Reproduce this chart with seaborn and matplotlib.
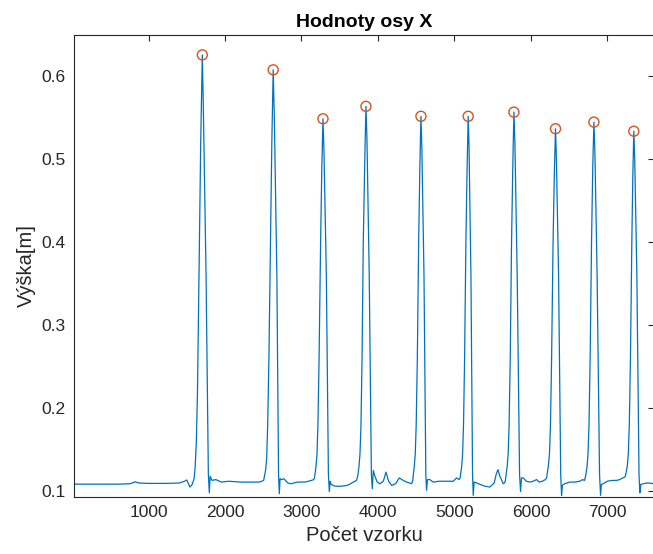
import numpy as np
import pandas as pd
import seaborn as sns
import matplotlib.pyplot as plt

# === Data (sample index, height [m]) ===
sig_x = [
    25, 600, 760, 820, 880, 1000, 1200, 1400, 1470, 1500, 1540, 1570,
    1595, 1610, 1625, 1640, 1660, 1682, 1703, 1716, 1752, 1782, 1795, 1805,
    1830, 1880, 1950, 2050, 2200, 2350, 2450, 2480,
    2505, 2530, 2545, 2558, 2574, 2595, 2612, 2630, 2645, 2678, 2700, 2710, 2720,
    2740, 2770, 2820, 2860, 2950, 3050, 3130, 3160,
    3170, 3190, 3203, 3215, 3230, 3250, 3266, 3281, 3294, 3325, 3352, 3364, 3374,
    3390, 3440, 3520, 3600, 3680, 3720, 3735,
    3752, 3765, 3778, 3792, 3808, 3828, 3843, 3856, 3886, 3914, 3926, 3939,
    3960, 3990, 4026, 4070, 4105, 4140, 4179, 4230, 4279, 4330, 4375, 4440,
    4455, 4475, 4488, 4500, 4515, 4532, 4548, 4562, 4574, 4602, 4626, 4636, 4648,
    4680, 4720, 4800, 4900, 4984, 5029, 5060,
    5075, 5095, 5107, 5119, 5133, 5150, 5166, 5180, 5191, 5216, 5237, 5246, 5258,
    5290, 5340, 5400, 5464, 5520, 5545, 5569, 5595, 5638, 5655,
    5665, 5690, 5703, 5715, 5730, 5747, 5763, 5778, 5791, 5821, 5852, 5865, 5877,
    5900, 5940, 5987, 6030, 6074, 6110, 6150, 6190,
    6205, 6228, 6243, 6256, 6271, 6290, 6306, 6322, 6334, 6362, 6390, 6401, 6412,
    6440, 6510, 6580, 6640, 6675, 6700, 6710,
    6715, 6735, 6747, 6760, 6775, 6793, 6809, 6824, 6837, 6866, 6898, 6911, 6922,
    6945, 7000, 7060, 7120, 7163, 7200, 7229,
    7240, 7260, 7274, 7287, 7302, 7320, 7333, 7346, 7358, 7386, 7414, 7425, 7436,
    7468, 7530, 7610,
]
sig_y = [
    0.1085, 0.1085, 0.1090, 0.1112, 0.1098, 0.1094, 0.1094, 0.1098, 0.1120, 0.1135, 0.1050, 0.1080,
    0.115, 0.13, 0.16, 0.22, 0.36, 0.52, 0.626, 0.565, 0.36, 0.12, 0.098, 0.118,
    0.113, 0.114, 0.111, 0.112, 0.111, 0.111, 0.111, 0.112,
    0.113, 0.125, 0.14, 0.18, 0.26, 0.40, 0.52, 0.608, 0.55, 0.36, 0.12, 0.097, 0.115,
    0.114, 0.115, 0.110, 0.109, 0.111, 0.111, 0.113, 0.114,
    0.116, 0.13, 0.145, 0.18, 0.26, 0.40, 0.49, 0.549, 0.51, 0.36, 0.12, 0.0995, 0.112,
    0.108, 0.106, 0.106, 0.107, 0.111, 0.113, 0.118,
    0.13, 0.145, 0.18, 0.26, 0.40, 0.50, 0.564, 0.525, 0.36, 0.12, 0.103, 0.125,
    0.118, 0.111, 0.109, 0.112, 0.123, 0.112, 0.107, 0.109, 0.116, 0.113, 0.111, 0.109,
    0.113, 0.13, 0.145, 0.18, 0.26, 0.40, 0.49, 0.552, 0.515, 0.36, 0.12, 0.101, 0.114,
    0.114, 0.111, 0.112, 0.112, 0.112, 0.116, 0.114,
    0.116, 0.13, 0.145, 0.18, 0.26, 0.40, 0.49, 0.552, 0.515, 0.36, 0.12, 0.095, 0.111,
    0.110, 0.108, 0.106, 0.105, 0.110, 0.120, 0.126, 0.118, 0.109, 0.110,
    0.112, 0.13, 0.145, 0.18, 0.26, 0.40, 0.49, 0.557, 0.52, 0.36, 0.12, 0.0995, 0.116,
    0.116, 0.112, 0.111, 0.112, 0.114, 0.111, 0.112, 0.114,
    0.116, 0.13, 0.145, 0.18, 0.26, 0.40, 0.48, 0.537, 0.50, 0.36, 0.12, 0.095, 0.107,
    0.109, 0.111, 0.111, 0.112, 0.114, 0.113, 0.116,
    0.118, 0.13, 0.145, 0.18, 0.26, 0.40, 0.49, 0.545, 0.51, 0.36, 0.12, 0.095, 0.108,
    0.109, 0.112, 0.113, 0.113, 0.114, 0.116, 0.117,
    0.12, 0.13, 0.145, 0.18, 0.26, 0.40, 0.48, 0.534, 0.50, 0.36, 0.12, 0.098, 0.108,
    0.109, 0.110, 0.109,
]

peak_x = [1703, 2630, 3281, 3843, 4562, 5180, 5778, 6322, 6824, 7346]
peak_y = [0.626, 0.608, 0.549, 0.564, 0.552, 0.552, 0.557, 0.537, 0.545, 0.534]

x_ticks = [1000, 2000, 3000, 4000, 5000, 6000, 7000]
y_ticks = [0.1, 0.2, 0.3, 0.4, 0.5, 0.6]

df = pd.DataFrame({"vzorek": sig_x, "vyska": sig_y})
peaks = pd.DataFrame({"vzorek": peak_x, "vyska": peak_y})

# === Styl ===
sns.set_style("white")
plt.rcParams["font.family"] = ["Liberation Sans", "DejaVu Sans"]
axis_col = "#262626"

fig = plt.figure(figsize=(6.53, 5.54), dpi=100)
ax = fig.add_axes([74 / 653, 1 - 497 / 554, (654 - 74) / 653, (497 - 35) / 554])

sns.lineplot(data=df, x="vzorek", y="vyska", ax=ax, color="#0072BD",
             linewidth=0.9, estimator=None, sort=False)
sns.scatterplot(data=peaks, x="vzorek", y="vyska", ax=ax, s=52,
                facecolor="none", edgecolor="#D95319", linewidth=1.0, zorder=3)

ax.set_xlim(25, 7610)
ax.set_ylim(0.093, 0.65)
ax.set_xticks(x_ticks)
ax.set_yticks(y_ticks)
ax.set_yticklabels([f"{v:g}" for v in y_ticks])

ax.tick_params(direction="in", length=4, width=0.8, top=True, right=True,
               labelsize=12.5, colors=axis_col, pad=6)
for sp in ax.spines.values():
    sp.set_color(axis_col)
    sp.set_linewidth(0.8)

ax.set_title("Hodnoty osy X", fontsize=14, fontweight="bold", color="black", pad=6)
ax.set_xlabel("Počet vzorku", fontsize=14.5, color=axis_col, labelpad=4)
ax.set_ylabel("Výška[m]", fontsize=14.5, color=axis_col, labelpad=4)

fig.savefig("out.png", dpi=100)
